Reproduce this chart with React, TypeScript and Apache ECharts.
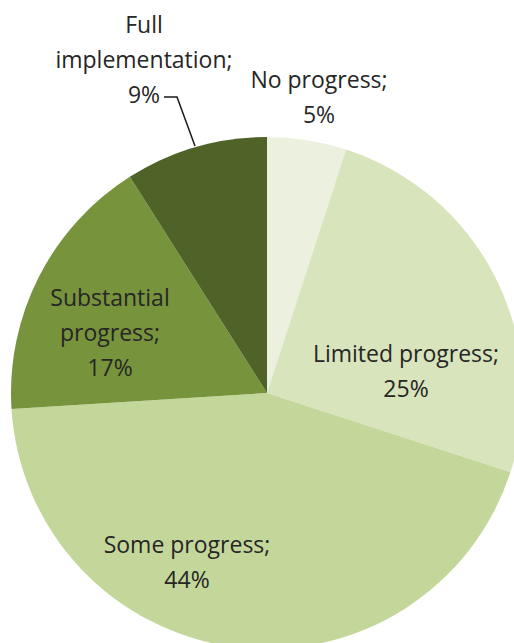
import React, { useEffect, useRef } from "react";
import * as echarts from "echarts";

// Categories in drawing order (clockwise from 12 o'clock)
const categories = [
  "No progress",
  "Limited progress",
  "Some progress",
  "Substantial progress",
  "Full implementation",
];
// Label text with the line breaks used in the original
const labelNames = [
  "No progress;",
  "Limited progress;",
  "Some progress;",
  "Substantial\nprogress;",
  "Full\nimplementation;",
];
const values = [5, 25, 44, 17, 9];
const colors = ["#ebf1de", "#d8e4bc", "#c4d79b", "#77933c", "#4f6228"];

// label centre positions (layout only)
const labelPos: [number, number][] = [
  [319, 96],
  [406, 370],
  [187, 561],
  [110, 332],
  [144, 59],
];

export default function App() {
  const ref = useRef<HTMLDivElement>(null);
  useEffect(() => {
    if (!ref.current) return;
    const chart = echarts.init(ref.current, null, { renderer: "svg" });
    chart.setOption({
      animation: false,
      backgroundColor: "#ffffff",
      series: [
        {
          type: "pie",
          center: [267, 393],
          radius: 256,
          startAngle: 90,
          clockwise: true,
          avoidLabelOverlap: false,
          itemStyle: { borderWidth: 0 },
          label: {
            show: true,
            position: "inside",
            fontFamily: "Open Sans",
            fontSize: 23,
            lineHeight: 35,
            color: "#262626",
            align: "center",
            formatter: (p: any) => `${labelNames[p.dataIndex]}\n${p.value}%`,
          },
          labelLine: { show: false },
          labelLayout: (p: any) => ({
            x: labelPos[p.dataIndex][0],
            y: labelPos[p.dataIndex][1],
            align: "center",
            verticalAlign: "middle",
          }),
          emphasis: { disabled: true },
          data: categories.map((c, i) => ({
            name: c,
            value: values[i],
            itemStyle: { color: colors[i] },
          })),
        },
      ],
      graphic: [
        {
          type: "polyline",
          shape: {
            points: [
              [164, 97],
              [177, 97],
              [195, 146],
            ],
          },
          style: { stroke: "#1a1a1a", lineWidth: 1.5, fill: "none" },
          z: 100,
        },
      ],
    });
    return () => chart.dispose();
  }, []);
  return (
    <div
      ref={ref}
      style={{ position: "fixed", left: 0, top: 0, width: 514, height: 643 }}
    />
  );
}
